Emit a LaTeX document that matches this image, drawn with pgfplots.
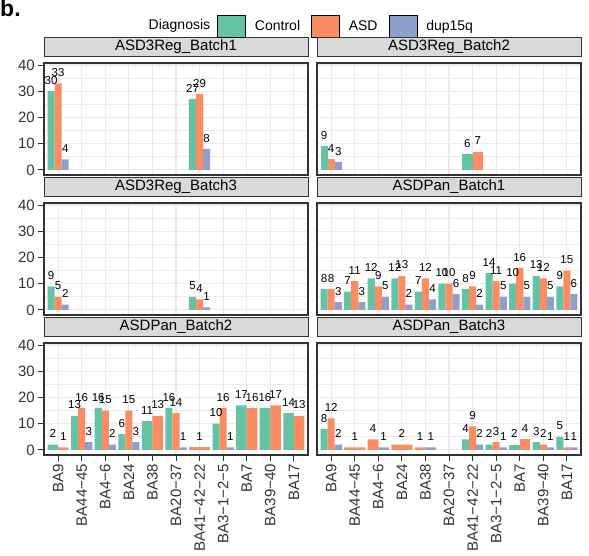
\documentclass[border=0pt]{standalone}
\usepackage{pgfplots}
\pgfplotsset{compat=1.18}
\usepackage{fontspec}
\setmainfont{Liberation Sans}
\definecolor{ctrl}{HTML}{66C2A5}
\definecolor{asd}{HTML}{FC8D62}
\definecolor{dup}{HTML}{8DA0CB}
\definecolor{gtwenty}{HTML}{333333}
\definecolor{gridc}{HTML}{EBEBEB}
\definecolor{stripc}{HTML}{D9D9D9}
\pgfplotsset{
  panel/.style={
    scale only axis, width=264pt, height=112pt,
    xmin=-0.6, xmax=10.6, ymin=-1.95, ymax=40.75,
    xtick={0,...,10}, ytick={0,10,20,30,40}, minor ytick={5,15,25,35},
    xmajorgrids, ymajorgrids, yminorgrids,
    major grid style={draw=gridc, line width=1.1pt},
    minor grid style={draw=gridc, line width=0.55pt},
    axis line style={draw=gtwenty, line width=1.4pt},
    tick align=outside, xtick pos=bottom, ytick pos=left,
    major tick length=6pt, minor tick length=0pt,
    xtick style={draw=none}, ytick style={draw=none},
    xticklabels={}, yticklabels={},
    /pgf/number format/assume math mode=true,
    title style={at={(0.5,1)}, anchor=south, yshift=0.7pt, draw=gtwenty, line width=0.6pt,
      fill=stripc, minimum width=264pt, minimum height=19pt, inner sep=0pt,
      font=\fontsize{15}{18}\selectfont},
    nodes near coords,
    every node near coord/.append style={font=\fontsize{11.5}{13}\selectfont, anchor=south,
      inner sep=0pt, yshift=6.5pt, text=black},
  },
  yax/.style={ytick style={draw=gtwenty, line width=0.8pt}, yticklabels={0,10,20,30,40},
    yticklabel style={font=\fontsize{15}{18}\selectfont, text=gtwenty, inner sep=3pt}},
  xax/.style={xtick style={draw=gtwenty, line width=0.8pt},
    xticklabels={BA9,BA44−45,BA4−6,BA24,BA38,BA20−37,BA41−42−22,BA3−1−2−5,BA7,BA39−40,BA17},
    xticklabel style={rotate=90, anchor=east, font=\fontsize{15}{18}\selectfont, text=gtwenty, inner sep=3pt}},
  C3/.style={ybar, forget plot, fill=ctrl, draw=none, bar width=0.3, bar shift=-0.3,
    every node near coord/.append style={xshift=-7.07pt}},
  A3/.style={ybar, forget plot, fill=asd, draw=none, bar width=0.3, bar shift=0},
  D3/.style={ybar, forget plot, fill=dup, draw=none, bar width=0.3, bar shift=0.3,
    every node near coord/.append style={xshift=7.07pt}},
  CL/.style={ybar, forget plot, fill=ctrl, draw=none, bar width=0.45, bar shift=-0.225,
    every node near coord/.append style={xshift=-5.30pt}},
  AR/.style={ybar, forget plot, fill=asd, draw=none, bar width=0.45, bar shift=0.225,
    every node near coord/.append style={xshift=5.30pt}},
  AL/.style={ybar, forget plot, fill=asd, draw=none, bar width=0.45, bar shift=-0.225,
    every node near coord/.append style={xshift=-5.30pt}},
  DR/.style={ybar, forget plot, fill=dup, draw=none, bar width=0.45, bar shift=0.225,
    every node near coord/.append style={xshift=5.30pt}},
  A1/.style={ybar, forget plot, fill=asd, draw=none, bar width=0.9, bar shift=0},
}
\begin{document}
\begin{tikzpicture}[x=1pt,y=1pt]
\useasboundingbox (0,0) rectangle (589,555);
\node[anchor=base west, font=\bfseries\fontsize{23}{27}\selectfont, inner sep=0pt] at (0,538) {b.};
\node[anchor=west, font=\fontsize{14}{17}\selectfont, inner sep=0pt] at (148.5,529) {Diagnosis};

% Row 1 left: ASD3Reg_Batch1
\begin{axis}[panel, yax, at={(44pt,380pt)}, anchor=south west, title={ASD3Reg\_Batch1},
  legend columns=3,
  legend image code/.code={\fill[#1] (0pt,-11pt) rectangle (28pt,11pt);},
  legend style={at={(axis description cs:0.6564,1.3304)}, anchor=west, draw=none, fill=none,
    inner sep=0pt, outer sep=0pt,
    font=\fontsize{14}{17}\selectfont, cells={anchor=west, inner sep=0pt},
    /tikz/every odd column/.append style={column sep=7.3pt},
    /tikz/every even column/.append style={column sep=9pt}}]
\addlegendimage{fill=ctrl}\addlegendentry{Control}
\addlegendimage{fill=asd}\addlegendentry{ASD}
\addlegendimage{fill=dup}\addlegendentry{dup15q}
\addplot[C3] coordinates {(0,30) (6,27)};
\addplot[A3] coordinates {(0,33) (6,29)};
\addplot[D3] coordinates {(0,4) (6,8)};
\end{axis}

% Row 1 right: ASD3Reg_Batch2
\begin{axis}[panel, at={(317pt,380pt)}, anchor=south west, title={ASD3Reg\_Batch2}]
\addplot[C3] coordinates {(0,9)};
\addplot[A3] coordinates {(0,4)};
\addplot[D3] coordinates {(0,3)};
\addplot[CL] coordinates {(6,6)};
\addplot[AR] coordinates {(6,7)};
\end{axis}

% Row 2 left: ASD3Reg_Batch3
\begin{axis}[panel, yax, at={(44pt,240pt)}, anchor=south west, title={ASD3Reg\_Batch3}]
\addplot[C3] coordinates {(0,9) (6,5)};
\addplot[A3] coordinates {(0,5) (6,4)};
\addplot[D3] coordinates {(0,2) (6,1)};
\end{axis}

% Row 2 right: ASDPan_Batch1
\begin{axis}[panel, at={(317pt,240pt)}, anchor=south west, title={ASDPan\_Batch1}]
\addplot[C3] coordinates {(0,8) (1,7) (2,12) (3,12) (4,7) (5,10) (6,8) (7,14) (8,10) (9,13) (10,9)};
\addplot[A3] coordinates {(0,8) (1,11) (2,9) (3,13) (4,12) (5,10) (6,9) (7,11) (8,16) (9,12) (10,15)};
\addplot[D3] coordinates {(0,3) (1,3) (2,5) (3,2) (4,4) (5,6) (6,2) (7,5) (8,5) (9,5) (10,6)};
\end{axis}

% Row 3 left: ASDPan_Batch2
\begin{axis}[panel, yax, xax, at={(44pt,100pt)}, anchor=south west, title={ASDPan\_Batch2}]
\addplot[C3] coordinates {(1,13) (2,16) (3,6) (5,16) (7,10)};
\addplot[A3] coordinates {(1,16) (2,15) (3,15) (5,14) (7,16)};
\addplot[D3] coordinates {(1,3) (2,2) (3,3) (5,1) (7,1)};
\addplot[CL] coordinates {(0,2) (4,11) (8,17) (9,16) (10,14)};
\addplot[AR] coordinates {(0,1) (4,13) (8,16) (9,17) (10,13)};
\addplot[A1] coordinates {(6,1)};
\end{axis}

% Row 3 right: ASDPan_Batch3
\begin{axis}[panel, xax, at={(317pt,100pt)}, anchor=south west, title={ASDPan\_Batch3}]
\addplot[C3] coordinates {(0,8) (6,4) (7,2) (9,3) (10,5)};
\addplot[A3] coordinates {(0,12) (6,9) (7,3) (9,2) (10,1)};
\addplot[D3] coordinates {(0,2) (6,2) (7,1) (9,1) (10,1)};
\addplot[A1] coordinates {(1,1) (3,2)};
\addplot[AL] coordinates {(2,4) (4,1)};
\addplot[DR] coordinates {(2,1) (4,1)};
\addplot[CL] coordinates {(8,2)};
\addplot[AR] coordinates {(8,4)};
\end{axis}
\end{tikzpicture}
\end{document}
